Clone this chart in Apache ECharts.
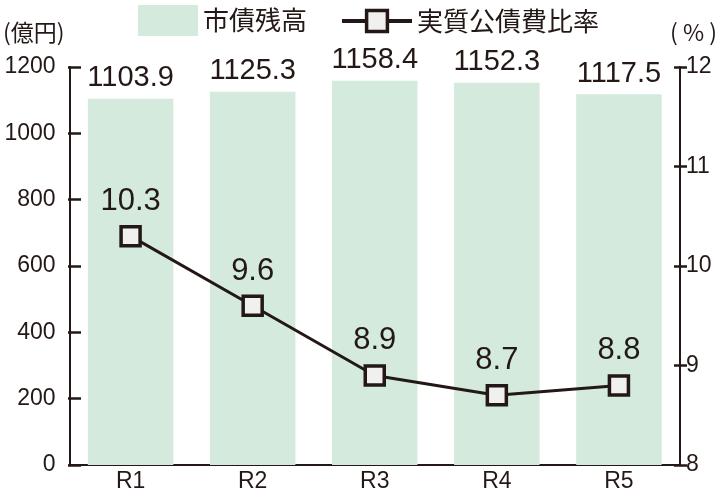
<!DOCTYPE html>
<html>
<head>
<meta charset="utf-8">
<script src="https://cdn.jsdelivr.net/npm/echarts@6/dist/echarts.min.js"></script>
</head>
<body style="margin:0;background:#fff">
<div id="container" style="width:720px;height:493px;"></div>
<script type="text/javascript">
var categories = ['R1', 'R2', 'R3', 'R4', 'R5'];
var debtValues = [1103.9, 1125.3, 1158.4, 1152.3, 1117.5];
var ratioValues = [10.3, 9.6, 8.9, 8.7, 8.8];
var leftTicks = [0, 1200, 200];
var rightTicks = [8, 12, 1];

var ink = '#231815';
var fontNum = '"Liberation Sans", Arial, sans-serif';
var fontJp = '"Noto Sans CJK JP", sans-serif';

// 内向きの目盛り：細いグリッドの分割線で描く
function tickY(gridIndex, t) {
    return {
        type: 'value', gridIndex: gridIndex,
        min: t[0], max: t[1], interval: t[2],
        axisLine: { show: false },
        axisTick: { show: false },
        axisLabel: { show: false },
        splitLine: { show: true, lineStyle: { color: ink, width: 2.5 } }
    };
}
function tickX(gridIndex) {
    return { type: 'value', gridIndex: gridIndex, show: false, min: 0, max: 1 };
}

var option = {
    animation: false,
    legend: [
        {
            top: 0, left: 133,
            itemWidth: 60, itemHeight: 31, itemGap: 10,
            textStyle: { fontFamily: fontJp, fontSize: 26, color: ink },
            data: [{ name: '市債残高', icon: 'rect' }]
        },
        {
            top: 3, left: 335,
            itemWidth: 70, itemHeight: 26,
            textStyle: { fontFamily: fontJp, fontSize: 26, color: ink },
            data: [{
                name: '実質公債費比率',
                lineStyle: { width: 4, color: ink },
                itemStyle: { borderWidth: 3.5, borderColor: ink, color: '#f0f0ee' }
            }]
        }
    ],
    grid: [
        { left: 68, right: 33, top: 67, bottom: 28 },
        { left: 68, width: 13, top: 67, bottom: 28 },
        { left: 674, width: 13, top: 67, bottom: 28 }
    ],
    xAxis: [
        {
            type: 'category',
            data: categories,
            axisLine: { lineStyle: { color: ink, width: 2 } },
            axisTick: { show: false },
            axisLabel: { fontFamily: fontNum, fontSize: 23, color: ink, margin: 5 }
        },
        tickX(1),
        tickX(2)
    ],
    yAxis: [
        {
            type: 'value', min: leftTicks[0], max: leftTicks[1], interval: leftTicks[2],
            name: '(億円)', nameLocation: 'end', nameGap: 23,
            nameTextStyle: { fontFamily: fontJp, fontSize: 23, color: ink, align: 'right', padding: [0, 5, 0, 0] },
            axisLine: { show: true, lineStyle: { color: ink, width: 2 } },
            axisTick: { show: false },
            axisLabel: {
                fontFamily: fontNum, fontSize: 23, color: ink, margin: 14,
                formatter: function (v) { return String(v); }
            },
            splitLine: { show: false }
        },
        {
            type: 'value', min: rightTicks[0], max: rightTicks[1], interval: rightTicks[2],
            name: '( % )', nameLocation: 'end', nameGap: 23,
            nameTextStyle: { fontFamily: fontJp, fontSize: 23, color: ink, align: 'left', padding: [0, 0, 0, -10] },
            axisLine: { show: true, lineStyle: { color: ink, width: 2 } },
            axisTick: { show: false },
            axisLabel: { fontFamily: fontNum, fontSize: 23, color: ink, margin: 6 },
            splitLine: { show: false }
        },
        tickY(1, leftTicks),
        tickY(2, rightTicks)
    ],
    series: [
        {
            name: '市債残高',
            type: 'bar',
            data: debtValues,
            barWidth: '70%',
            itemStyle: { color: '#d3eadc' },
            label: {
                show: true, position: 'top', distance: 6,
                fontFamily: fontNum, fontSize: 29, color: ink
            }
        },
        {
            name: '実質公債費比率',
            type: 'line',
            yAxisIndex: 1,
            data: ratioValues,
            symbol: 'rect',
            symbolSize: 19,
            lineStyle: { color: ink, width: 3 },
            itemStyle: { color: '#f0f0ee', borderColor: ink, borderWidth: 3.5 },
            label: {
                show: true, position: 'top', distance: 8,
                fontFamily: fontNum, fontSize: 31, color: ink
            }
        }
    ]
};

var myChart = echarts.init(document.getElementById('container'));
myChart.setOption(option);
</script>
</body>
</html>
